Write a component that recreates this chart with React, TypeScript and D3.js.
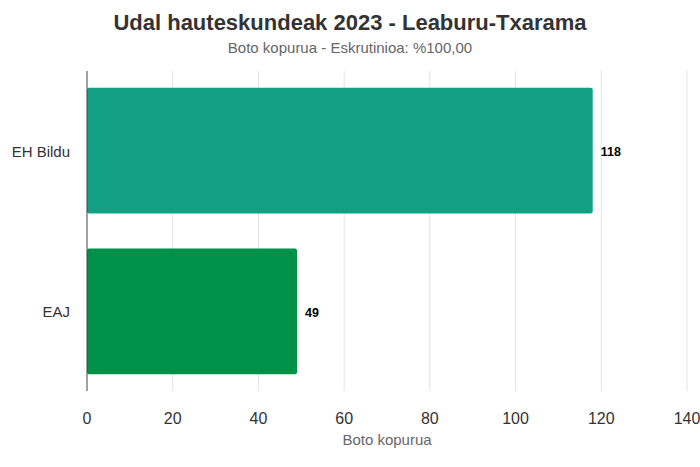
import { useEffect, useRef } from "react";
import * as d3 from "d3";

const categories = [ "EH Bildu", "EAJ" ];
const votes = [ 118, 49 ];
const barColors = [ "#12a085", "#019047" ];
const xTicks = [ 0, 20, 40, 60, 80, 100, 120, 140 ];

const TITLE = "Udal hauteskundeak 2023 - Leaburu-Txarama";
const SUBTITLE = "Boto kopurua - Eskrutinioa: %100,00";
const X_LABEL = "Boto kopurua";

const SANS = "'Liberation Sans', Arial, sans-serif";

export default function App ()
{
    const svgRef = useRef<SVGSVGElement>( null );

    useEffect( () =>
    {
        if ( !svgRef.current ) return;
        const W = 700, H = 467;
        const m = { top: 71, right: 13, bottom: 76, left: 87 };
        const w = W - m.left - m.right;
        const h = H - m.top - m.bottom;

        const svg = d3.select( svgRef.current );
        svg.selectAll( "*" ).remove();
        svg.attr( "width", W ).attr( "height", H );

        const x = d3.scaleLinear().domain( [ 0, 140 ] ).range( [ 0, w ] );
        const y = d3.scaleBand().domain( categories ).range( [ 0, h ] ).paddingInner( 0.218 ).paddingOuter( 0.105 );

        const g = svg.append( "g" ).attr( "transform", `translate(${ m.left },${ m.top })` );

        // Grid
        g.append( "g" ).selectAll( "line" ).data( xTicks.slice( 1 ) ).join( "line" )
            .attr( "x1", ( d ) => x( d ) ).attr( "x2", ( d ) => x( d ) )
            .attr( "y1", 0 ).attr( "y2", h )
            .attr( "stroke", "#e3e3e3" ).attr( "stroke-width", 1 );

        // Bars
        const rows = categories.map( ( c, i ) => ( { c, v: votes[ i ], color: barColors[ i ] } ) );
        g.selectAll( ".bar" ).data( rows ).join( "rect" )
            .attr( "x", 0 ).attr( "y", ( d ) => y( d.c )! )
            .attr( "width", ( d ) => x( d.v ) ).attr( "height", y.bandwidth() )
            .attr( "rx", 2 ).attr( "fill", ( d ) => d.color );

        // Value labels
        g.selectAll( ".val" ).data( rows ).join( "text" )
            .attr( "x", ( d ) => x( d.v ) + 8 ).attr( "y", ( d ) => y( d.c )! + y.bandwidth() / 2 )
            .attr( "dy", "0.45em" ).text( ( d ) => d.v )
            .attr( "fill", "#000" ).style( "font-size", "12.5px" ).style( "font-weight", "bold" ).style( "font-family", SANS );

        // Y axis line
        g.append( "line" ).attr( "x1", 0 ).attr( "x2", 0 ).attr( "y1", 0 ).attr( "y2", h )
            .attr( "stroke", "#444" ).attr( "stroke-width", 1 );

        // Y labels
        g.selectAll( ".cat" ).data( categories ).join( "text" )
            .attr( "x", -17 ).attr( "y", ( d ) => y( d )! + y.bandwidth() / 2 )
            .attr( "dy", "0.4em" ).attr( "text-anchor", "end" ).text( ( d ) => d )
            .attr( "fill", "#333" ).style( "font-size", "15px" ).style( "font-family", SANS );

        // X ticks
        g.selectAll( ".tick" ).data( xTicks ).join( "text" )
            .attr( "x", ( d ) => x( d ) ).attr( "y", h + 33 )
            .attr( "text-anchor", "middle" ).text( ( d ) => d )
            .attr( "fill", "#333" ).style( "font-size", "16px" ).style( "font-family", SANS );

        // X title
        svg.append( "text" ).attr( "x", m.left + w / 2 ).attr( "y", H - 22 )
            .attr( "text-anchor", "middle" ).text( X_LABEL )
            .attr( "fill", "#666" ).style( "font-size", "15px" ).style( "font-family", SANS );

        // Title + subtitle
        svg.append( "text" ).attr( "x", W / 2 ).attr( "y", 30 )
            .attr( "text-anchor", "middle" ).text( TITLE )
            .attr( "fill", "#333" ).style( "font-size", "22px" ).style( "font-weight", "bold" ).style( "font-family", SANS );

        svg.append( "text" ).attr( "x", W / 2 ).attr( "y", 52.5 )
            .attr( "text-anchor", "middle" ).text( SUBTITLE )
            .attr( "fill", "#666" ).style( "font-size", "15px" ).style( "font-family", SANS );
    }, [] );

    return (
        <div style={ { position: "absolute", left: 0, top: 0 } }>
            <svg ref={ svgRef } style={ { display: "block" } } />
        </div>
    );
}
